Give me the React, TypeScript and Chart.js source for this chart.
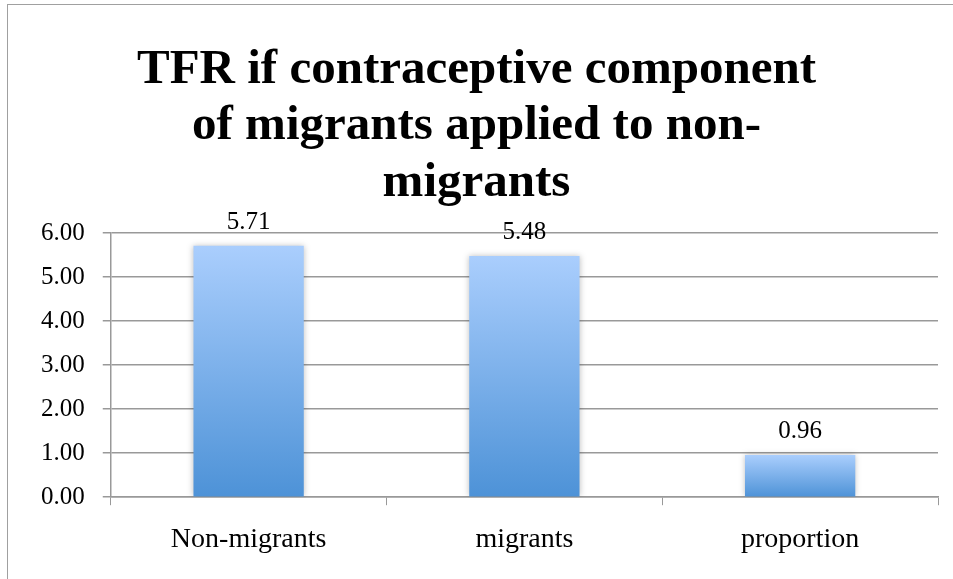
import React, { useEffect, useRef } from "react";
import { Chart, registerables } from "chart.js";

Chart.register(...registerables);

const TITLE_LINES = ["TFR if contraceptive component", "of migrants applied to non-", "migrants"];
const CATEGORIES = ["Non-migrants", "migrants", "proportion"];
const VALUES = [5.71, 5.48, 0.96];
const Y_MIN = 0;
const Y_MAX = 6;
const Y_STEP = 1;

const SERIF = "'Liberation Serif', 'DejaVu Serif', serif";

const dataLabels = {
  id: "dataLabels",
  afterDatasetsDraw(chart: any) {
    const ctx = chart.ctx;
    const meta = chart.getDatasetMeta(0);
    ctx.save();
    ctx.font = `25px ${SERIF}`;
    ctx.fillStyle = "#000";
    ctx.textAlign = "center";
    ctx.textBaseline = "bottom";
    meta.data.forEach((bar: any, i: number) => {
      const v = chart.data.datasets[0].data[i] as number;
      ctx.fillText(v.toFixed(2), bar.x, bar.y - 11);
    });
    ctx.restore();
  },
};

const barShadow = {
  id: "barShadow",
  beforeDatasetsDraw(chart: any) {
    const ctx = chart.ctx;
    ctx.save();
    ctx.shadowColor = "rgba(0,0,0,0.25)";
    ctx.shadowBlur = 6;
    ctx.shadowOffsetX = 0;
    ctx.shadowOffsetY = 0;
  },
  afterDatasetsDraw(chart: any) {
    chart.ctx.restore();
  },
};

export default function App() {
  const ref = useRef<HTMLCanvasElement | null>(null);

  useEffect(() => {
    if (!ref.current) return;
    const chart = new Chart(ref.current, {
      type: "bar",
      data: {
        labels: CATEGORIES,
        datasets: [
          {
            data: VALUES,
            backgroundColor: (c: any) => {
              const ch = c.chart;
              const area = ch.chartArea;
              if (!area || c.raw === undefined) return "#7fb0ea";
              const y = ch.scales.y;
              const top = y.getPixelForValue(c.raw);
              const bottom = y.getPixelForValue(0);
              const g = ch.ctx.createLinearGradient(0, top, 0, bottom);
              g.addColorStop(0, "#aacefd");
              g.addColorStop(1, "#4d92d7");
              return g;
            },
            borderWidth: 0,
            barPercentage: 0.4,
            categoryPercentage: 1,
          },
        ],
      },
      options: {
        responsive: false,
        animation: false,
        layout: { padding: { left: 15, right: 15, top: 0, bottom: 5 } },
        plugins: {
          legend: { display: false },
          tooltip: { enabled: false },
          title: {
            display: true,
            text: TITLE_LINES,
            color: "#000",
            font: { family: SERIF, size: 49, weight: "bold", lineHeight: 1.15 },
            padding: { top: 42, bottom: 22 },
          },
        },
        scales: {
          x: {
            grid: {
              drawOnChartArea: false,
              drawTicks: true,
              tickLength: 8,
              color: "#999",
              offset: true,
            },
            border: { display: true, color: "#999", width: 1.5 },
            ticks: {
              color: "#000",
              padding: 19,
              font: { family: SERIF, size: 28, lineHeight: 1.1 },
            },
          },
          y: {
            min: Y_MIN,
            max: Y_MAX,
            afterFit: (s: any) => {
              s.width += 8;
            },
            grid: { color: "#999", lineWidth: 1.5, tickLength: 8 },
            border: { display: true, color: "#999", width: 1.5 },
            ticks: {
              stepSize: Y_STEP,
              color: "#000",
              padding: 18,
              font: { family: SERIF, size: 25 },
              callback: (v: any) => Number(v).toFixed(2),
            },
          },
        },
      },
      plugins: [barShadow, dataLabels],
    });
    return () => chart.destroy();
  }, []);

  return (
    <div style={{ position: "fixed", left: 0, top: 0, width: 953, height: 579, overflow: "hidden", background: "#fff" }}>
      <div
        style={{
          position: "absolute",
          left: 7,
          top: 4,
          width: 1000,
          height: 700,
          border: "1.5px solid #a0a0a0",
          boxSizing: "border-box",
        }}
      />
      <canvas ref={ref} width={953} height={579} style={{ position: "absolute", left: 0, top: 0, display: "block" }} />
    </div>
  );
}
